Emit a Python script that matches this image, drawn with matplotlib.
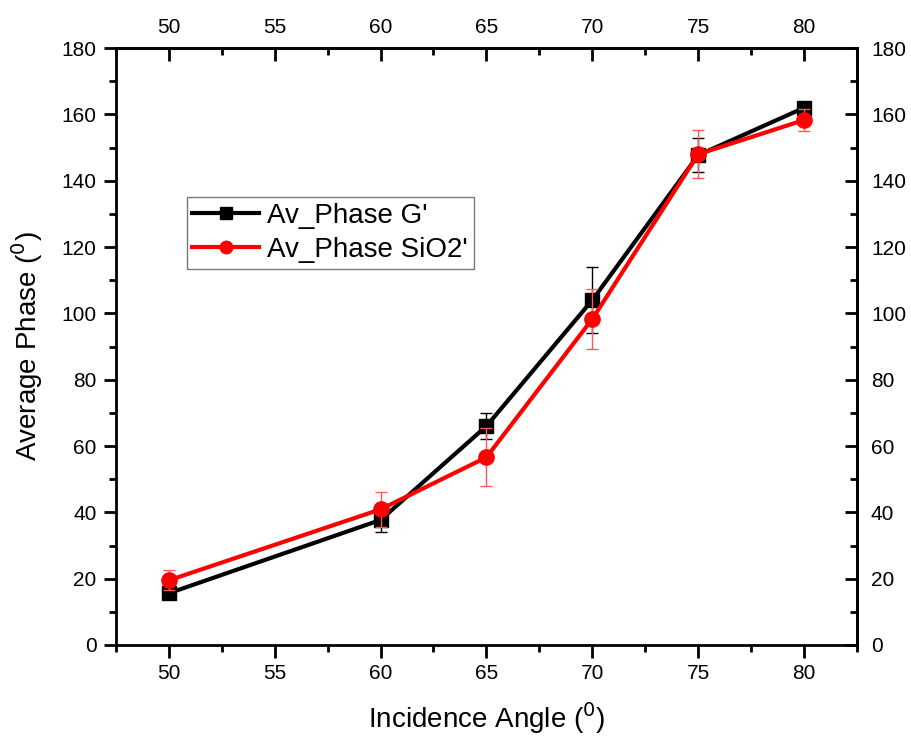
import matplotlib
matplotlib.use("Agg")
import matplotlib.pyplot as plt
from matplotlib.ticker import MultipleLocator
from matplotlib.lines import Line2D

angles = [50, 60, 65, 70, 75, 80]
phase_g = [15.6, 37.7, 66.0, 104.0, 147.7, 162.0]
err_g = [1.2, 3.5, 3.9, 9.9, 5.2, 1.0]
phase_sio2 = [19.5, 40.9, 56.6, 98.3, 148.0, 158.3]
err_sio2 = [3.0, 5.3, 8.7, 9.0, 7.2, 3.3]
x_ticks = [50, 55, 60, 65, 70, 75, 80]
y_ticks = [0, 20, 40, 60, 80, 100, 120, 140, 160, 180]

plt.rcParams["font.family"] = ["Liberation Sans", "DejaVu Sans"]

fig = plt.figure(figsize=(9.12, 7.4), dpi=100)
ax = fig.add_axes([0.127, 0.1284, 0.8127, 0.8066])

red = "#ff0000"
ax.errorbar(angles, phase_g, yerr=err_g, color="black", lw=3.0, marker="s",
            ms=9.5, ecolor="black", elinewidth=1.0, capsize=4.5, capthick=1.0,
            zorder=3)
ax.errorbar(angles, phase_sio2, yerr=err_sio2, color=red, lw=3.0, marker="o",
            ms=11, ecolor=(1, 0.35, 0.35), elinewidth=1.0, capsize=4.5, capthick=1.0,
            zorder=4)

ax.set_xlim(47.5, 82.5)
ax.set_ylim(0, 180)
ax.set_xticks(x_ticks)
ax.set_yticks(y_ticks)
ax.xaxis.set_minor_locator(MultipleLocator(2.5))
ax.yaxis.set_minor_locator(MultipleLocator(10))

for s in ax.spines.values():
    s.set_linewidth(2.0)

ax.tick_params(which="major", direction="out", length=9, width=2.0, labelsize=15, pad=5)
ax.tick_params(which="minor", direction="out", length=5, width=2.0)

top = ax.secondary_xaxis("top")
top.set_xticks(x_ticks)
top.xaxis.set_minor_locator(MultipleLocator(2.5))
top.tick_params(which="major", direction="in", length=9, width=2.0, labelsize=15, pad=8)
top.tick_params(which="minor", direction="in", length=5, width=2.0)
top.spines["top"].set_linewidth(2.0)

right = ax.secondary_yaxis("right")
right.set_yticks(y_ticks)
right.yaxis.set_minor_locator(MultipleLocator(10))
right.tick_params(which="major", direction="in", length=9, width=2.0, labelsize=15, pad=10)
right.tick_params(which="minor", direction="in", length=5, width=2.0)
right.spines["right"].set_linewidth(2.0)

ax.set_xlabel("Incidence Angle ($^0$)", fontsize=20, labelpad=12)
ax.set_ylabel("Average Phase ($^0$)", fontsize=20, labelpad=12)

handles = [
    Line2D([], [], color="black", lw=3.0, marker="s", ms=8),
    Line2D([], [], color=red, lw=3.0, marker="o", ms=9),
]
labels = ["Av_Phase G'", "Av_Phase SiO2'"]
leg = ax.legend(handles, labels, loc="upper left", bbox_to_anchor=(0.0958, 0.750),
                fontsize=20, frameon=True, fancybox=False, edgecolor="#555555",
                handlelength=2.4, borderpad=0.2, labelspacing=0.3,
                handletextpad=0.3, borderaxespad=0)
leg.get_frame().set_linewidth(1.0)

fig.savefig("out.png", dpi=100)
